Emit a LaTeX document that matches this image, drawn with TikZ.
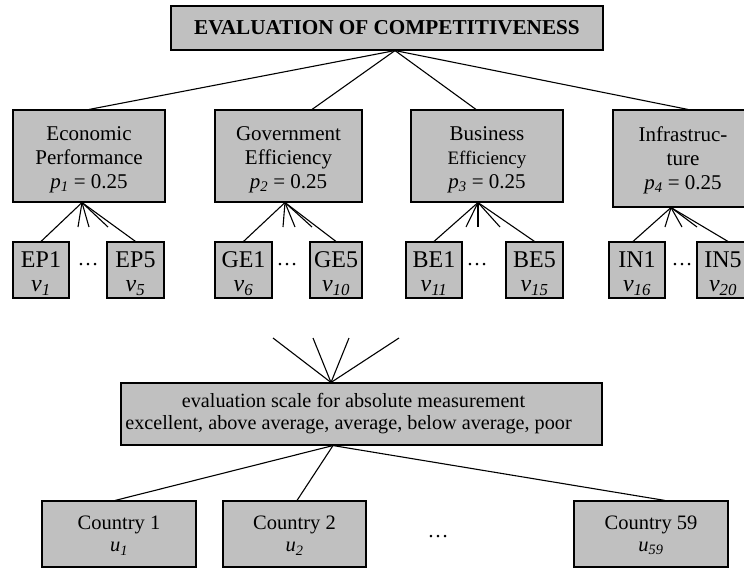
\documentclass[tikz,border=0pt]{standalone}
\usepackage{fontspec}
\setmainfont{Liberation Serif}
\usetikzlibrary{calc}
\definecolor{boxgray}{RGB}{192,192,192}
\newcommand{\sub}[2]{\textit{#1}\textsubscript{\textit{#2}}}
\newcommand{\lift}[1]{\rule{0pt}{#1}}
\begin{document}
\begin{tikzpicture}[x=1pt,y=-1pt,
  box/.style={rectangle, draw=black, fill=boxgray, line width=1.1pt, inner sep=0pt, align=center},
  link/.style={line width=1.1pt},
  fmain/.style={font=\fontsize{21}{24}\selectfont},
  fleaf/.style={font=\fontsize{24}{24}\selectfont},
  fcty/.style={font=\fontsize{20.5}{22}\selectfont},
  dotsty/.style={inner sep=0pt, font=\fontsize{21}{24}\selectfont}]
\clip (0,0) rectangle (744,568);
\useasboundingbox (0,0) rectangle (744,568);

% top
\node[box, minimum width=432pt, minimum height=44pt, font=\fontsize{21.2}{24}\selectfont\bfseries] (title) at (387,28) {EVALUATION OF COMPETITIVENESS};

% criteria
\node[box, fmain, minimum width=152pt, minimum height=92pt] (econ) at (89,156) {\lift{21pt}Economic\\Performance\\\sub{p}{1} = 0.25};
\node[box, fmain, minimum width=147pt, minimum height=92pt] (gov) at (288.5,156) {\lift{21pt}Government\\Efficiency\\\sub{p}{2} = 0.25};
\node[box, fmain, minimum width=152pt, minimum height=92pt] (bus) at (487,156) {\lift{21pt}Business\\{\fontsize{19}{22}\selectfont Efficiency}\\\sub{p}{3} = 0.25};
\node[box, fmain, minimum width=140pt, minimum height=97pt] (inf) at (683,158.5) {\lift{19pt}Infrastruc-\\ture\\\sub{p}{4} = 0.25};

% sub-criteria
\node[box, fleaf, minimum width=56pt, minimum height=56pt] (ep1) at (41,270) {\lift{23pt}EP1\\\sub{v}{1}};
\node[box, fleaf, minimum width=57pt, minimum height=56pt] (ep5) at (135.5,270) {\lift{23pt}EP5\\\sub{v}{5}};
\node[box, fleaf, minimum width=57pt, minimum height=56pt] (ge1) at (243.5,270) {\lift{23pt}GE1\\\sub{v}{6}};
\node[box, fleaf, minimum width=52pt, minimum height=56pt] (ge5) at (336,270) {\lift{23pt}GE5\\\sub{v}{10}};
\node[box, fleaf, minimum width=56pt, minimum height=56pt] (be1) at (434,270) {\lift{23pt}BE1\\\sub{v}{11}};
\node[box, fleaf, minimum width=57pt, minimum height=56pt] (be5) at (534.5,270) {\lift{23pt}BE5\\\sub{v}{15}};
\node[box, fleaf, minimum width=56pt, minimum height=56pt] (in1) at (637,270) {\lift{23pt}IN1\\\sub{v}{16}};
\node[box, fleaf, minimum width=52pt, minimum height=56pt] (in5) at (723,270) {\lift{23pt}IN5\\\sub{v}{20}};

\node[dotsty] (d1) at (88,265) {…};
\node[dotsty] (d2) at (287,265) {…};
\node[dotsty] (d3) at (477,265) {…};
\node[dotsty] (d4) at (682,265) {…};

% evaluation scale
\node[box, font=\fontsize{20.2}{22}\selectfont, minimum width=481pt, minimum height=62pt] (eval) at (361.5,414) {evaluation scale for absolute measurement\hspace*{16pt}\\excellent, above average, average, below average, poor\hspace*{26pt}};

% alternatives
\node[box, fcty, minimum width=154pt, minimum height=66pt] (c1) at (119,534) {\lift{17pt}Country 1\\\sub{u}{1}};
\node[box, fcty, minimum width=143pt, minimum height=66pt] (c2) at (294.5,534) {\lift{17pt}Country 2\\\sub{u}{2}};
\node[box, fcty, minimum width=154pt, minimum height=66pt] (c59) at (651,534) {\lift{17pt}Country 59\\\sub{u}{59}};
\node[dotsty] (d5) at (438,537) {…};

% anchor points
\coordinate (ta) at ([xshift=8pt]title.south);
\coordinate (ea) at ([xshift=-7pt]econ.south);
\coordinate (ga) at ([xshift=-3.5pt]gov.south);
\coordinate (ba) at ([xshift=-9pt]bus.south);
\coordinate (ia) at ([xshift=-12pt]inf.south);
\coordinate (sa) at ([xshift=-30.5pt]eval.north);
\coordinate (sb) at ([xshift=-28.5pt]eval.south);

% stubs
\coordinate (e2) at (78,227); \coordinate (e3) at (89,227); \coordinate (e4) at (108,227);
\coordinate (g2) at (283,227); \coordinate (g3) at (295,227); \coordinate (g4) at (312,227);
\coordinate (b2) at (466,227); \coordinate (b3) at (478,227); \coordinate (b4) at (500,227);
\coordinate (i2) at (665,227); \coordinate (i3) at (682,227); \coordinate (i4) at (697,227);
\coordinate (s1) at (273,338); \coordinate (s2) at (313,338); \coordinate (s3) at (349,338); \coordinate (s4) at (399,338);

% connectors
\draw[link] (ta) -- (econ.north);
\draw[link] (ta) -- ([xshift=23.5pt]gov.north);
\draw[link] (ta) -- ([xshift=-11pt]bus.north);
\draw[link] (ta) -- ([xshift=5pt]inf.north);

\draw[link] (ea) -- (ep1.north);
\draw[link] (ea) -- (e2); \draw[link] (ea) -- (e3); \draw[link] (ea) -- (e4);
\draw[link] (ea) -- (ep5.north);

\draw[link] (ga) -- (ge1.north);
\draw[link] (ga) -- (g2); \draw[link] (ga) -- (g3); \draw[link] (ga) -- (g4);
\draw[link] (ga) -- (ge5.north);

\draw[link] (ba) -- (be1.north);
\draw[link] (ba) -- (b2); \draw[link] (ba) -- (b3); \draw[link] (ba) -- (b4);
\draw[link] (ba) -- (be5.north);

\draw[link] (ia) -- ([xshift=-4pt]in1.north);
\draw[link] (ia) -- (i2); \draw[link] (ia) -- (i3); \draw[link] (ia) -- (i4);
\draw[link] (ia) -- ([xshift=5pt]in5.north);

\draw[link] (sa) -- (s1); \draw[link] (sa) -- (s2); \draw[link] (sa) -- (s3); \draw[link] (sa) -- (s4);

\draw[link] (sb) -- ([xshift=-4pt]c1.north);
\draw[link] (sb) -- ([xshift=2.5pt]c2.north);
\draw[link] (sb) -- ([xshift=14pt]c59.north);
\end{tikzpicture}
\end{document}
